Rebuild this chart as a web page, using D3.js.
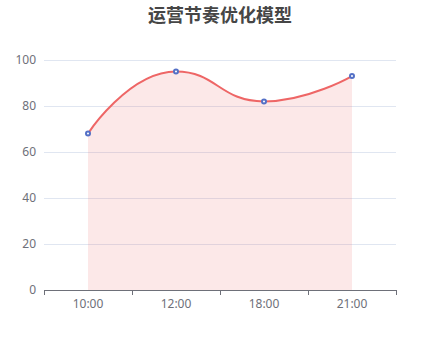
<!DOCTYPE html>
<html><head><meta charset="utf-8">
<script src="https://cdn.jsdelivr.net/npm/d3@7/dist/d3.min.js"></script>
<style>html,body{margin:0;padding:0;background:#fff;}</style>
</head><body>
<svg id="c" width="440" height="360"></svg>
<script>
const title = "运营节奏优化模型";
const categories = ["10:00", "12:00", "18:00", "21:00"];
const values = [68, 95, 82, 93];
const yTicks = [0, 20, 40, 60, 80, 100];

const W = 440, H = 360;
const m = {left: 44, right: 44, top: 60, bottom: 70};
const svg = d3.select("#c");
const font = "'Noto Sans', 'DejaVu Sans', sans-serif";

const x = d3.scaleBand().domain(categories).range([m.left, W - m.right]);
const y = d3.scaleLinear().domain([0, 100]).range([H - m.bottom, m.top]);

// title
svg.append("text").attr("x", W/2).attr("y", 22).attr("text-anchor", "middle")
  .attr("font-family", "'Noto Sans CJK SC', sans-serif").attr("font-weight", "bold")
  .attr("font-size", 18).attr("fill", "#464646").text(title);

// grid
svg.append("g").selectAll("line").data(yTicks.filter(d => d !== 0)).join("line")
  .attr("x1", m.left).attr("x2", W - m.right)
  .attr("y1", d => y(d) + 0.5).attr("y2", d => y(d) + 0.5)
  .attr("stroke", "#E0E6F1").attr("stroke-width", 1);

// y labels
svg.append("g").selectAll("text").data(yTicks).join("text")
  .attr("x", m.left - 8).attr("y", d => y(d)).attr("dy", "0.35em")
  .attr("text-anchor", "end").attr("font-family", font).attr("font-size", 12)
  .attr("fill", "#6E7079").text(d => d);

// ECharts-like smooth curve (flat tangent at local extrema)
function echartsCurve(context) {
  let pts = [];
  return {
    areaStart() {}, areaEnd() {},
    lineStart() { pts = []; },
    point(px, py) { pts.push([+px, +py]); },
    lineEnd() {
      const s = 0.5;
      const n = pts.length;
      if (!n) return;
      context.moveTo(pts[0][0], pts[0][1]);
      let cp0 = pts[0].slice();
      for (let i = 1; i < n; i++) {
        const [px, py] = pts[i - 1];
        const [cx, cy] = pts[i];
        let cp1, nextCp0;
        if (i < n - 1) {
          const [nx, ny] = pts[i + 1];
          let vx = nx - px, vy = ny - py;
          if ((cy - py) * (ny - cy) <= 0) vy = 0;
          const l0 = Math.hypot(cx - px, cy - py);
          const l1 = Math.hypot(nx - cx, ny - cy);
          const r = l1 / (l0 + l1);
          cp1 = [cx - vx * s * (1 - r), cy - vy * s * (1 - r)];
          nextCp0 = [cx + vx * s * r, cy + vy * s * r];
        } else {
          cp1 = [cx, cy];
          nextCp0 = [cx, cy];
        }
        context.bezierCurveTo(cp0[0], cp0[1], cp1[0], cp1[1], cx, cy);
        cp0 = nextCp0;
      }
    }
  };
}

const data = categories.map((c, i) => ({c, v: values[i]}));
const cx = d => x(d.c) + x.bandwidth() / 2;

// area
const lineGen = d3.line().x(cx).y(d => y(d.v)).curve(echartsCurve);
const linePath = lineGen(data);
const first = data[0], last = data[data.length - 1];
const areaPath = linePath + `L${cx(last)},${y(0)}L${cx(first)},${y(0)}Z`;
svg.append("path").attr("d", areaPath).attr("fill", "#ee6666").attr("fill-opacity", 0.15);

svg.append("path").attr("d", linePath).attr("fill", "none")
  .attr("stroke", "#ee6666").attr("stroke-width", 2);

// x axis
const ax = svg.append("g");
ax.append("line").attr("x1", m.left).attr("x2", W - m.right)
  .attr("y1", y(0) + 0.5).attr("y2", y(0) + 0.5).attr("stroke", "#6E7079");
const tickPos = categories.map(c => x(c)).concat([x.range()[1]]);
ax.selectAll(".t").data(tickPos).join("line")
  .attr("x1", d => d + 0.5).attr("x2", d => d + 0.5)
  .attr("y1", y(0)).attr("y2", y(0) + 5).attr("stroke", "#6E7079");
ax.selectAll("text").data(categories).join("text")
  .attr("x", c => x(c) + x.bandwidth() / 2).attr("y", y(0) + 14).attr("dy", "0.35em")
  .attr("text-anchor", "middle").attr("font-family", font).attr("font-size", 12)
  .attr("fill", "#6E7079").text(c => c);

// points
svg.append("g").selectAll("circle").data(data).join("circle")
  .attr("cx", cx).attr("cy", d => y(d.v)).attr("r", 2)
  .attr("fill", "#fff").attr("stroke", "#5470c6").attr("stroke-width", 2);
</script>
</body></html>
